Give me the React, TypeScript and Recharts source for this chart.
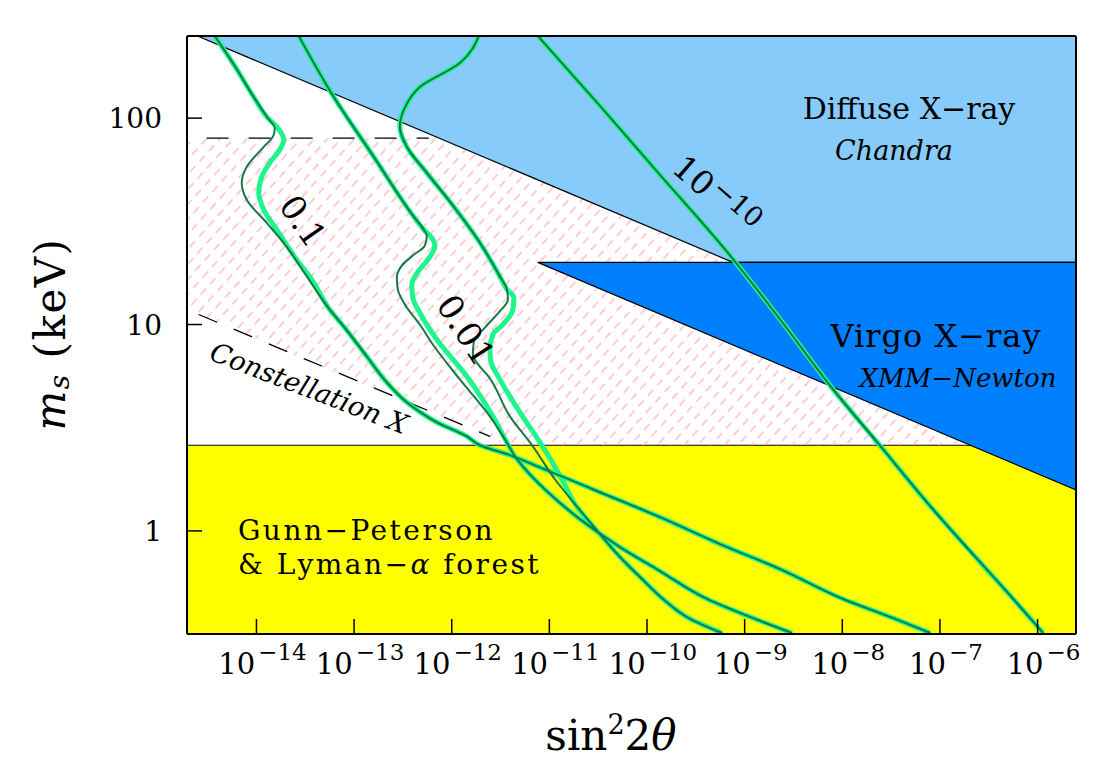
import { ComposedChart, XAxis, YAxis, Area, Line } from "recharts";

const FONT = "'DejaVu Serif', serif";
const BRIGHT = "#1ef58c";
const DARK = "#137a46";

const xDomain = [1.945e-15, 2.474e-6];
const yDomain = [0.3166, 250];
const xTicks = [1e-14, 1e-13, 1e-12, 1e-11, 1e-10, 1e-9, 1e-8, 1e-7, 1e-6];
const xTickExps = ["\u221214", "\u221213", "\u221212", "\u221211", "\u221210", "\u22129", "\u22128", "\u22127", "\u22126"];
const yMajor = [1, 10, 100];
const yMajorLabels = ["1", "10", "100"];
const yMinor = [0.4, 0.5, 0.6, 0.7, 0.8, 0.9, 2, 3, 4, 5, 6, 7, 8, 9, 20, 30, 40, 50, 60, 70, 80, 90, 200];

// shaded regions: [sin^2 2theta, [low keV, high keV]]
const yellowBand = [
  { s: 1.945e-15, r: [0.3166, 2.6] },
  { s: 2.474e-6, r: [0.3166, 2.6] },
];
const hatchBand = [
  { s: 1.945e-15, r: [11.8, 80] },
  { s: 7.43e-13, r: [3.6, 80] },
  { s: 3.75e-12, r: [2.6, 57.9] },
  { s: 2.474e-6, r: [2.6, 3.97] },
];
const diffuseBand = [
  { s: 2.49e-15, r: [250, 250] },
  { s: 7.6e-10, r: [20, 250] },
  { s: 2.474e-6, r: [20, 250] },
];
const virgoBand = [
  { s: 7.6e-12, r: [20, 20] },
  { s: 2.474e-6, r: [1.58, 20] },
];

const line80 = [
  [2.44e-15, 80],
  [5.83e-13, 80],
];
const conX = [
  [2.56e-15, 11.18],
  [2.46e-12, 2.87],
];

// production curves [sin^2 2theta, m_s keV]
const c1Top = [[3.74e-15, 250], [6.0e-15, 178.8], [9.38e-15, 126.6], [1.306e-14, 100.2]];
const c1BrightMid = [[1.653e-14, 89.7], [1.905e-14, 78.5], [1.733e-14, 70.2], [1.369e-14, 60.7], [1.133e-14, 52.0], [1.056e-14, 43.5], [1.188e-14, 36.0], [1.614e-14, 28.8], [2.588e-14, 20.6], [3.687e-14, 16.5]];
const c1DarkMid = [[1.54e-14, 89.7], [1.504e-14, 82.9], [1.188e-14, 72.6], [7.96e-15, 58.1], [7.07e-15, 48.6], [7.96e-15, 40.2], [1.275e-14, 31.1], [2.044e-14, 23.8], [3.278e-14, 17.1]];
const c1Bottom = [[5.64e-14, 11.8], [7.85e-14, 9.78], [1.35e-13, 7.0], [2.165e-13, 5.24], [3.469e-13, 4.2], [7.04e-13, 3.36], [1.43e-12, 2.87], [1.943e-12, 2.6], [3.943e-12, 2.33], [7.46e-12, 2.06], [3.298e-11, 1.54], [1.358e-10, 1.166], [5.6e-10, 0.863], [2.306e-9, 0.653], [1.019e-8, 0.468], [3.09e-8, 0.383], [7.94e-8, 0.32]];

const c2Top = [[2.713e-14, 250], [6.2e-14, 126.6], [1.593e-13, 64.9], [4.09e-13, 33.3], [5.18e-13, 28.8]];
const c2BrightMid = [[6.26e-13, 26.3], [6.72e-13, 24.1], [5.69e-13, 20.6], [4.5e-13, 18.0], [3.903e-13, 15.6], [3.997e-13, 13.5], [4.716e-13, 11.4], [7.04e-13, 8.46], [1.43e-12, 5.6], [2.64e-12, 3.59]];
const c2DarkMid = [[5.56e-13, 26.9], [5.31e-13, 24.1], [3.997e-13, 21.6], [3.083e-13, 19.3], [2.741e-13, 16.9], [2.806e-13, 14.8], [3.31e-13, 12.5], [4.716e-13, 10], [6.41e-13, 8.0], [1.212e-12, 5.42], [2.46e-12, 3.59]];
const c2Bottom = [[3.761e-12, 2.63], [4.437e-12, 2.3], [6.32e-12, 1.88], [1.013e-11, 1.51], [2.057e-11, 1.14], [5.285e-11, 0.835], [1.358e-10, 0.639], [4.12e-10, 0.468], [1.136e-9, 0.383], [3.06e-9, 0.32]];

const c3Top = [[1.897e-12, 250], [1.212e-12, 184.9], [4.716e-13, 141.5], [3.232e-13, 109.6], [2.942e-13, 90.7], [3.469e-13, 72.6], [5.56e-13, 54.3], [1.052e-12, 37.2], [1.943e-12, 24.9], [3.113e-12, 17.1], [3.674e-12, 14.8]];
const c3BrightMid = [[4.33e-12, 13.5], [4.232e-12, 11.8], [3.343e-12, 10], [2.64e-12, 8.95], [2.46e-12, 7.57], [2.52e-12, 6.62], [3.113e-12, 5.42], [4.993e-12, 3.75], [8.0e-12, 2.69], [1.345e-11, 1.78]];
const c3DarkMid = [[3.761e-12, 13.2], [3.113e-12, 11.6], [2.186e-12, 9.67], [1.686e-12, 8.28], [1.647e-12, 7.16], [1.897e-12, 6.34], [2.292e-12, 5.73], [3.943e-12, 3.59], [6.78e-12, 2.57], [1.14e-11, 1.78]];
const c3Bottom = [[1.828e-11, 1.35], [3.298e-11, 0.965], [5.285e-11, 0.747], [9.54e-11, 0.566], [1.458e-10, 0.468], [2.758e-10, 0.375], [5.87e-10, 0.32]];

const c4 = [[7.63e-12, 250], [3.298e-11, 114.6], [1.358e-10, 53.1], [6.3e-10, 23.1], [2.306e-9, 10.6], [8.05e-9, 4.85], [2.275e-8, 2.69], [8.52e-8, 1.27], [5.63e-7, 0.468], [1.143e-6, 0.32]];

const pts = (...parts: number[][][]) => parts.flat().map(([s, m]) => ({ s, m }));

const brightCurves = [
  pts(c1Top, c1BrightMid, c1Bottom),
  pts(c2Top, c2BrightMid, c2Bottom),
  pts(c3Top, c3BrightMid, c3Bottom),
  pts(c4),
];
const darkCurves = [
  pts(c1Top, c1DarkMid, c1Bottom),
  pts(c2Top, c2DarkMid, c2Bottom),
  pts(c3Top, c3DarkMid, c3Bottom),
  pts(c4),
];

function XTick(props: any) {
  const { x, y, index } = props;
  return (
    <text x={x + 6} y={y + 55} textAnchor="middle" fontFamily={FONT} fontSize={29} fill="#000">
      10<tspan dx={3} dy={-14} fontSize={23}>{xTickExps[index]}</tspan>
    </text>
  );
}

function YTick(props: any) {
  const { x, y, index } = props;
  return (
    <text x={x - 40} y={y} dy="0.36em" textAnchor="end" fontFamily={FONT} fontSize={28} fill="#000">
      {yMajorLabels[index]}
    </text>
  );
}

const axisLine = { stroke: "#000", strokeWidth: 2 };
const tickLine = { stroke: "#000", strokeWidth: 1.5 };

export default function App() {
  return (
    <div style={{ position: "relative", width: 1084, height: 760, background: "#fff" }}>
      <ComposedChart width={1084} height={760} margin={{ top: 27, right: 14, bottom: 133, left: 177 }}>
        <defs>
          <pattern id="hatch" patternUnits="userSpaceOnUse" width="14" height="10" patternTransform="rotate(-48)">
            <line x1="0" y1="5" x2="8" y2="5" stroke="#ffb0c0" strokeWidth="1.3" />
          </pattern>
        </defs>

        <Area data={yellowBand} dataKey="r" xAxisId="x" yAxisId="y" type="linear" fill="#ffff00" fillOpacity={1} stroke="#000" strokeWidth={1.2} isAnimationActive={false} />
        <Area data={hatchBand} dataKey="r" xAxisId="x" yAxisId="y" type="linear" fill="url(#hatch)" fillOpacity={1} stroke="none" isAnimationActive={false} />
        <Area data={diffuseBand} dataKey="r" xAxisId="x" yAxisId="y" type="linear" fill="#87cbfa" fillOpacity={1} stroke="#000" strokeWidth={1.2} isAnimationActive={false} />
        <Area data={virgoBand} dataKey="r" xAxisId="x" yAxisId="y" type="linear" fill="#0080ff" fillOpacity={1} stroke="#000" strokeWidth={1.2} isAnimationActive={false} />

        <Line data={pts(line80)} dataKey="m" xAxisId="x" yAxisId="y" type="linear" stroke="#000" strokeWidth={1.3} strokeDasharray="22 20" strokeDashoffset={-10} dot={false} activeDot={false} isAnimationActive={false} />
        <Line data={pts(conX)} dataKey="m" xAxisId="x" yAxisId="y" type="linear" stroke="#000" strokeWidth={1.3} strokeDasharray="20 18" dot={false} activeDot={false} isAnimationActive={false} />

        {brightCurves.map((d, i) => (
          <Line key={"b" + i} data={d} dataKey="m" xAxisId="x" yAxisId="y" type="monotoneY" stroke={BRIGHT} strokeWidth={5} dot={false} activeDot={false} isAnimationActive={false} />
        ))}
        {darkCurves.map((d, i) => (
          <Line key={"d" + i} data={d} dataKey="m" xAxisId="x" yAxisId="y" type="monotoneY" stroke={DARK} strokeWidth={2} dot={false} activeDot={false} isAnimationActive={false} />
        ))}

        <XAxis xAxisId="x" dataKey="s" type="number" scale="log" domain={xDomain} allowDataOverflow ticks={xTicks} interval={0} height={1} tickSize={-15} tickMargin={0} tick={(p: any) => <XTick {...p} />} tickLine={tickLine} axisLine={axisLine} />
        <XAxis xAxisId="xt" orientation="top" dataKey="s" type="number" scale="log" domain={xDomain} allowDataOverflow ticks={xTicks} interval={0} height={1} tickSize={-15} tick={false} tickLine={tickLine} axisLine={axisLine} />
        <YAxis yAxisId="y" type="number" scale="log" domain={yDomain} allowDataOverflow ticks={yMajor} interval={0} width={1} tickSize={-15} tickMargin={0} tick={(p: any) => <YTick {...p} />} tickLine={tickLine} axisLine={axisLine} />
        <YAxis yAxisId="ym" type="number" scale="log" domain={yDomain} allowDataOverflow ticks={yMinor} interval={0} width={1} tickSize={-8} tick={false} tickLine={tickLine} axisLine={false} />
        <YAxis yAxisId="yr" orientation="right" type="number" scale="log" domain={yDomain} allowDataOverflow ticks={yMajor} interval={0} width={1} tickSize={-15} tick={false} tickLine={tickLine} axisLine={axisLine} />
        <YAxis yAxisId="yrm" orientation="right" type="number" scale="log" domain={yDomain} allowDataOverflow ticks={yMinor} interval={0} width={1} tickSize={-8} tick={false} tickLine={tickLine} axisLine={false} />
      </ComposedChart>

      <svg width={1084} height={760} style={{ position: "absolute", left: 0, top: 0, pointerEvents: "none" }}>
        <text x={901} y={111} textAnchor="middle" fontFamily={FONT} fontSize={30} fill="#000">Diffuse X{"\u2212"}ray</text>
        <text x={886} y={152} textAnchor="middle" fontFamily={FONT} fontStyle="italic" fontSize={27} fill="#000">Chandra</text>
        <text x={928} y={339} textAnchor="middle" fontFamily={FONT} fontSize={32} letterSpacing={1} fill="#000">Virgo X{"\u2212"}ray</text>
        <text x={950} y={379} textAnchor="middle" fontFamily={FONT} fontStyle="italic" fontSize={26} fill="#000">XMM{"\u2212"}Newton</text>
        <text x={230} y={532} fontFamily={FONT} fontSize={28} letterSpacing={2.5} fill="#000">Gunn{"\u2212"}Peterson</text>
        <text x={230} y={566} fontFamily={FONT} fontSize={28} letterSpacing={2.5} fill="#000">&amp; Lyman{"\u2212"}<tspan fontStyle="italic">α</tspan> forest</text>
        <text transform="translate(295,213) rotate(55)" textAnchor="middle" dominantBaseline="central" fontFamily={FONT} fontSize={34} fill="#000">0.1</text>
        <text transform="translate(458,322) rotate(57)" textAnchor="middle" dominantBaseline="central" fontFamily={FONT} fontSize={34} fill="#000">0.01</text>
        <text transform="translate(708,187) rotate(41)" textAnchor="middle" dominantBaseline="central" fontFamily={FONT} fontSize={33} fill="#000">
          10<tspan dx={2} dy={-9} fontSize={27}>{"\u2212"}10</tspan>
        </text>
        <text transform="translate(301,380) rotate(21)" textAnchor="middle" dominantBaseline="central" fontFamily={FONT} fontStyle="italic" fontSize={27} fill="#000">Constellation X</text>
        <text transform="translate(42,326) rotate(-90)" textAnchor="middle" dominantBaseline="central" fontFamily={FONT} fontSize={42} letterSpacing={1.5} fill="#000">
          <tspan fontStyle="italic">m</tspan><tspan fontStyle="italic" fontSize={28} dy={9}>s</tspan><tspan dy={-9}> (keV)</tspan>
        </text>
        <text x={603} y={742} textAnchor="middle" fontFamily={FONT} fontSize={42} fill="#000">
          sin<tspan dy={-16} fontSize={27}>2</tspan><tspan dy={16}>2<tspan fontStyle="italic">θ</tspan></tspan>
        </text>
      </svg>
    </div>
  );
}
